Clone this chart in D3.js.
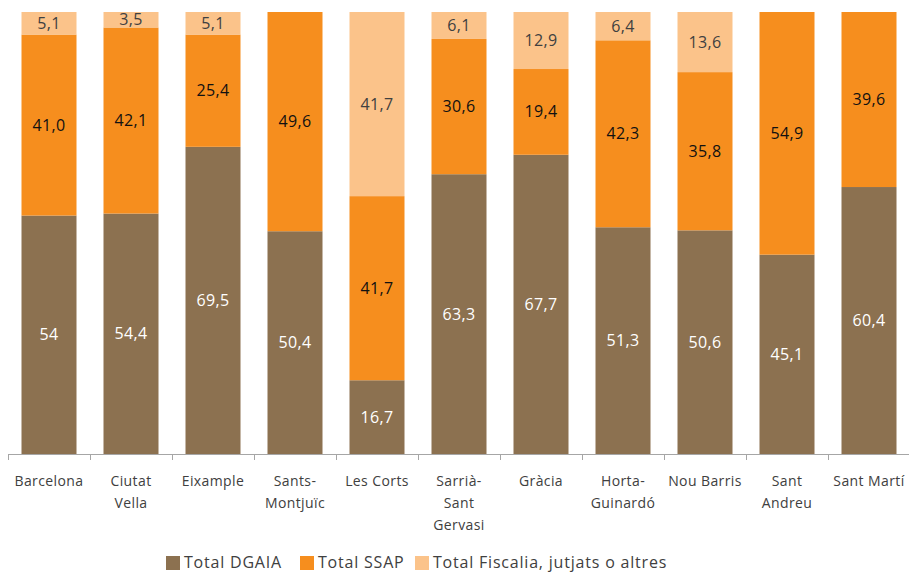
<!DOCTYPE html>
<html>
<head>
<meta charset="utf-8">
<script src="https://cdn.jsdelivr.net/npm/d3@7"></script>
<style>
  body { margin: 0; background: #fff; }
  text { font-family: "Open Sans", sans-serif; }
</style>
</head>
<body>
<div id="viz"></div>
<script>
// data (percentages)
var categories = ['Barcelona', 'Ciutat Vella', 'Eixample', 'Sants-Montjuïc', 'Les Corts',
  'Sarrià-Sant Gervasi', 'Gràcia', 'Horta-Guinardó', 'Nou Barris', 'Sant Andreu', 'Sant Martí'];
var tickLabels = [['Barcelona'], ['Ciutat', 'Vella'], ['Eixample'], ['Sants-', 'Montjuïc'], ['Les Corts'],
  ['Sarrià-', 'Sant', 'Gervasi'], ['Gràcia'], ['Horta-', 'Guinardó'], ['Nou Barris'], ['Sant', 'Andreu'], ['Sant Martí']];
var seriesNames = ['Total DGAIA', 'Total SSAP', 'Total Fiscalia, jutjats o altres'];
var dgaia = [54, 54.4, 69.5, 50.4, 16.7, 63.3, 67.7, 51.3, 50.6, 45.1, 60.4];
var ssap = [41.0, 42.1, 25.4, 49.6, 41.7, 30.6, 19.4, 42.3, 35.8, 54.9, 39.6];
var fiscalia = [5.1, 3.5, 5.1, 0, 41.7, 6.1, 12.9, 6.4, 13.6, 0, 0];
var dgaiaText = ['54', '54,4', '69,5', '50,4', '16,7', '63,3', '67,7', '51,3', '50,6', '45,1', '60,4'];

var colors = ['#8c7150', '#f68e1e', '#fbc38a'];
var labelColors = ['#ffffff', '#111111', '#404040'];

var svg = d3.select('#viz').append('svg')
  .attr('width', 909)
  .attr('height', 574);

var x = d3.scaleBand()
  .domain(categories)
  .range([8, 910])
  .paddingInner(27 / 82)
  .paddingOuter(13.5 / 82);

var y = d3.scaleLinear()
  .domain([0, 1])
  .range([454, 12]);

var rows = categories.map(function(c, i) {
  return { cat: c, s0: dgaia[i], s1: ssap[i], s2: fiscalia[i], i: i };
});

var stack = d3.stack()
  .keys(['s0', 's1', 's2'])
  .offset(d3.stackOffsetExpand);
var layers = stack(rows);

var fmt = function(v) { return d3.format('.1f')(v).replace('.', ','); };

var groups = svg.selectAll('g.layer')
  .data(layers).enter()
  .append('g')
  .attr('class', 'layer')
  .attr('fill', function(d, k) { return colors[k]; });

groups.selectAll('rect')
  .data(function(d) { return d; })
  .enter().append('rect')
  .attr('x', function(d) { return x(d.data.cat); })
  .attr('width', x.bandwidth())
  .attr('y', function(d) { return y(d[1]); })
  .attr('height', function(d) { return y(d[0]) - y(d[1]); });

// value labels in the middle of each segment
layers.forEach(function(layer, k) {
  svg.append('g').selectAll('text')
    .data(layer.filter(function(d) { return d[1] - d[0] > 0; }))
    .enter().append('text')
    .attr('x', function(d) { return x(d.data.cat) + x.bandwidth() / 2; })
    .attr('y', function(d) { return (y(d[0]) + y(d[1])) / 2; })
    .attr('dy', '0.35em')
    .attr('text-anchor', 'middle')
    .attr('font-size', '16px')
    .attr('letter-spacing', '0.3px')
    .attr('fill', labelColors[k])
    .text(function(d) {
      var i = d.data.i;
      if (k == 0) return dgaiaText[i];
      if (k == 1) return fmt(ssap[i]);
      return fmt(fiscalia[i]);
    });
});

// x axis: line with ticks at the band boundaries
var axis = svg.append('g').attr('stroke', '#a6a6a6').attr('stroke-width', 1);
axis.append('line')
  .attr('x1', 8).attr('x2', 910)
  .attr('y1', 454.5).attr('y2', 454.5);
var step = x.step();
categories.forEach(function(c, i) {
  var bx = Math.round(x(c) - x.paddingOuter() * step) + 0.5;
  axis.append('line')
    .attr('x1', bx).attr('x2', bx)
    .attr('y1', 454).attr('y2', 460);
});

// category labels, wrapped like the original
var catLabels = svg.append('g');
categories.forEach(function(c, i) {
  var t = catLabels.append('text')
    .attr('text-anchor', 'middle')
    .attr('font-size', '14px')
    .attr('fill', '#404040')
    .attr('letter-spacing', '0.4px');
  tickLabels[i].forEach(function(line, j) {
    t.append('tspan')
      .attr('x', x(c) + x.bandwidth() / 2)
      .attr('y', 486 + j * 22)
      .text(line);
  });
});

// legend
var legendX = [166, 300, 415];
var legend = svg.append('g');
seriesNames.forEach(function(name, k) {
  legend.append('rect')
    .attr('x', legendX[k]).attr('y', 556)
    .attr('width', 14).attr('height', 14)
    .attr('fill', colors[k]);
  legend.append('text')
    .attr('x', legendX[k] + 18).attr('y', 568)
    .attr('font-size', '16px')
    .attr('fill', '#404040')
    .attr('letter-spacing', '0.8px')
    .text(name);
});
</script>
</body>
</html>
